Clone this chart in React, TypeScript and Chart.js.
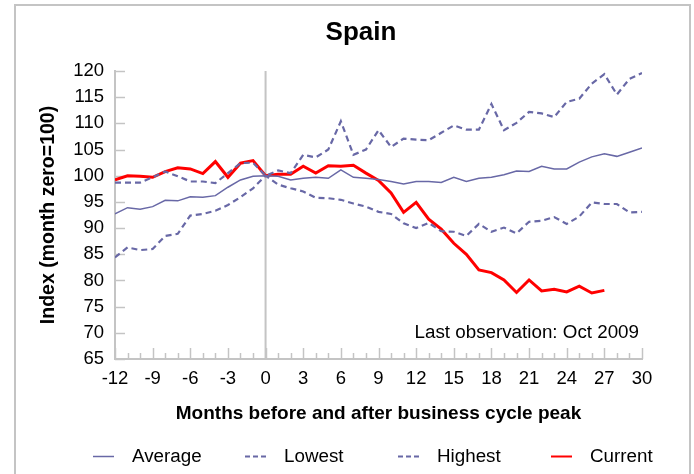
import { useEffect, useRef } from 'react';
import { Chart, registerables } from 'chart.js';
Chart.register(...registerables);

const FONT = '"Liberation Sans", Arial, sans-serif';
const NAVY = '#6868a6';
const RED = '#ff0000';
const AXIS = '#c4c4c4';

const months = [-12, -11, -10, -9, -8, -7, -6, -5, -4, -3, -2, -1, 0, 1, 2, 3, 4, 5, 6, 7, 8, 9, 10, 11, 12, 13, 14, 15, 16, 17, 18, 19, 20, 21, 22, 23, 24, 25, 26, 27, 28, 29, 30];
const xTickLabels = ['-12', '-9', '-6', '-3', '0', '3', '6', '9', '12', '15', '18', '21', '24', '27', '30'];
const yTickLabels = ['65', '70', '75', '80', '85', '90', '95', '100', '105', '110', '115', '120'];

const average = [92.7, 93.9, 93.6, 94.1, 95.3, 95.2, 96.0, 95.9, 96.2, 97.8, 99.2, 99.9, 100,
  99.9, 99.2, 99.5, 99.7, 99.5, 101.1, 99.7, 99.5, 99.3, 98.9, 98.4, 98.9, 98.9, 98.7, 99.7,
  98.9, 99.5, 99.7, 100.2, 100.9, 100.8, 101.8, 101.3, 101.3, 102.6, 103.6, 104.2, 103.7, 104.5, 105.3];
const lowest = [84.4, 86.3, 85.8, 86.0, 88.5, 88.9, 92.4, 92.7, 93.3, 94.4, 95.9, 97.6, 100,
  98.3, 97.6, 97.0, 95.8, 95.7, 95.4, 94.7, 94.1, 93.1, 92.7, 90.9, 90.0, 91.0, 89.4, 89.3,
  88.5, 90.8, 89.3, 90.1, 89.0, 91.2, 91.4, 92.1, 90.8, 92.2, 94.9, 94.6, 94.6, 93.0, 93.1];
const highest = [98.7, 98.7, 98.7, 99.7, 100.8, 99.9, 98.9, 98.9, 98.6, 100.5, 102.4, 102.5, 100,
  101.0, 100.5, 104.0, 103.5, 105.0, 110.4, 104.0, 105.0, 108.7, 105.5, 107.1, 106.9, 106.8, 108.2, 109.6,
  108.8, 108.8, 113.7, 108.7, 110.1, 112.2, 111.9, 111.2, 114.1, 114.7, 117.6, 119.4, 115.5, 118.5, 119.6];
const current = [99.2, 100.0, 99.9, 99.7, 100.8, 101.5, 101.3, 100.4, 102.7, 99.7, 102.4, 102.9, 100,
  100.3, 100.3, 101.8, 100.5, 101.9, 101.8, 102.0, 100.5, 99.1, 96.7, 93.0, 94.9, 91.7, 89.8, 87.1,
  85.0, 82.0, 81.5, 80.1, 77.7, 80.1, 78.0, 78.3, 77.8, 78.9, 77.6, 78.1];

const titleText = 'Spain';
const xTitle = 'Months before and after business cycle peak';
const yTitle = 'Index (month zero=100)';
const noteText = 'Last observation: Oct 2009';

const legendItems = [
  { label: 'Average', color: NAVY, dash: [] as number[], width: 1.5, x: 93 },
  { label: 'Lowest', color: NAVY, dash: [5, 3], width: 2, x: 245 },
  { label: 'Highest', color: NAVY, dash: [5, 3], width: 2, x: 398 },
  { label: 'Current', color: RED, dash: [] as number[], width: 2, x: 551 },
];

const toPoints = (vals: number[]) => vals.map((v, i) => ({ x: months[i], y: v }));

const overlay = {
  id: 'overlay',
  beforeDraw(chart: any) {
    const ctx = chart.ctx;
    ctx.save();
    ctx.strokeStyle = AXIS;
    ctx.lineWidth = 2;
    ctx.strokeRect(15, 5, 675, 480);
    ctx.restore();
  },
  beforeDatasetsDraw(chart: any) {
    const ctx = chart.ctx;
    const xs = chart.scales.x;
    const ys = chart.scales.y;
    const area = chart.chartArea;
    ctx.save();
    ctx.strokeStyle = AXIS;
    ctx.lineWidth = 2;
    const x0 = xs.getPixelForValue(0);
    ctx.beginPath();
    ctx.moveTo(x0, area.top);
    ctx.lineTo(x0, area.bottom);
    ctx.stroke();
    ctx.lineWidth = 1.5;
    yTickLabels.forEach((t) => {
      const y = Math.round(ys.getPixelForValue(Number(t))) + 0.5;
      ctx.beginPath();
      ctx.moveTo(area.left, y);
      ctx.lineTo(area.left + 10, y);
      ctx.stroke();
    });
    months.forEach((m) => {
      const x = Math.round(xs.getPixelForValue(m)) + 0.5;
      const len = m % 3 === 0 ? 11 : 6;
      ctx.beginPath();
      ctx.moveTo(x, area.bottom);
      ctx.lineTo(x, area.bottom - len);
      ctx.stroke();
    });
    ctx.restore();
  },
  afterDraw(chart: any) {
    const ctx = chart.ctx;
    const area = chart.chartArea;
    ctx.save();
    ctx.fillStyle = '#000';
    ctx.textBaseline = 'middle';
    ctx.font = `bold 26px ${FONT}`;
    ctx.textAlign = 'center';
    ctx.fillText(titleText, 361, 33);
    ctx.font = `bold 19px ${FONT}`;
    ctx.fillText(xTitle, (area.left + area.right) / 2, 414);
    ctx.save();
    ctx.translate(49, (area.top + area.bottom) / 2);
    ctx.rotate(-Math.PI / 2);
    ctx.font = `bold 19.5px ${FONT}`;
    ctx.fillText(yTitle, 0, 0);
    ctx.restore();
    ctx.font = `18.8px ${FONT}`;
    ctx.textAlign = 'right';
    ctx.fillText(noteText, 639, 333);
    ctx.textAlign = 'left';
    ctx.font = `18.8px ${FONT}`;
    legendItems.forEach((it) => {
      ctx.save();
      ctx.strokeStyle = it.color;
      ctx.lineWidth = it.width;
      ctx.setLineDash(it.dash);
      ctx.beginPath();
      ctx.moveTo(it.x, 456.5);
      ctx.lineTo(it.x + 21, 456.5);
      ctx.stroke();
      ctx.restore();
      ctx.fillText(it.label, it.x + 39, 457);
    });
    ctx.restore();
  },
};

export default function App() {
  const ref = useRef<HTMLCanvasElement>(null);
  useEffect(() => {
    document.body.style.margin = '0';
    const chart = new Chart(ref.current as HTMLCanvasElement, {
      type: 'line',
      data: {
        datasets: [
          { label: 'Average', data: toPoints(average), borderColor: NAVY, borderWidth: 1.5, pointRadius: 0, tension: 0 },
          { label: 'Lowest', data: toPoints(lowest), borderColor: NAVY, borderWidth: 2.2, borderDash: [6, 4], pointRadius: 0, tension: 0 },
          { label: 'Highest', data: toPoints(highest), borderColor: NAVY, borderWidth: 2.2, borderDash: [6, 4], pointRadius: 0, tension: 0 },
          { label: 'Current', data: toPoints(current), borderColor: RED, borderWidth: 3, pointRadius: 0, tension: 0 },
        ],
      },
      options: {
        responsive: false,
        animation: false,
        layout: { padding: { left: 0, top: 71, right: 52, bottom: 75 } },
        plugins: { legend: { display: false }, title: { display: false }, tooltip: { enabled: false } },
        scales: {
          x: {
            type: 'linear',
            min: -12,
            max: 30,
            afterBuildTicks: (s: any) => { s.ticks = xTickLabels.map((t) => ({ value: Number(t) })); },
            ticks: { color: '#000', font: { family: FONT, size: 18.5 }, padding: 9, maxRotation: 0, autoSkip: false },
            grid: { display: false, drawTicks: false },
            border: { color: AXIS, width: 2 },
            afterFit: (s: any) => { s.height = 40; },
          },
          y: {
            min: 65,
            max: 120,
            afterBuildTicks: (s: any) => { s.ticks = yTickLabels.map((t) => ({ value: Number(t) })); },
            ticks: { color: '#000', font: { family: FONT, size: 18.5 }, padding: 11, autoSkip: false },
            grid: { display: false, drawTicks: false },
            border: { color: AXIS, width: 2 },
            afterFit: (s: any) => { s.width = 115; },
          },
        },
      },
      plugins: [overlay],
    });
    return () => chart.destroy();
  }, []);
  return <canvas ref={ref} width={694} height={474} style={{ display: 'block' }} />;
}
